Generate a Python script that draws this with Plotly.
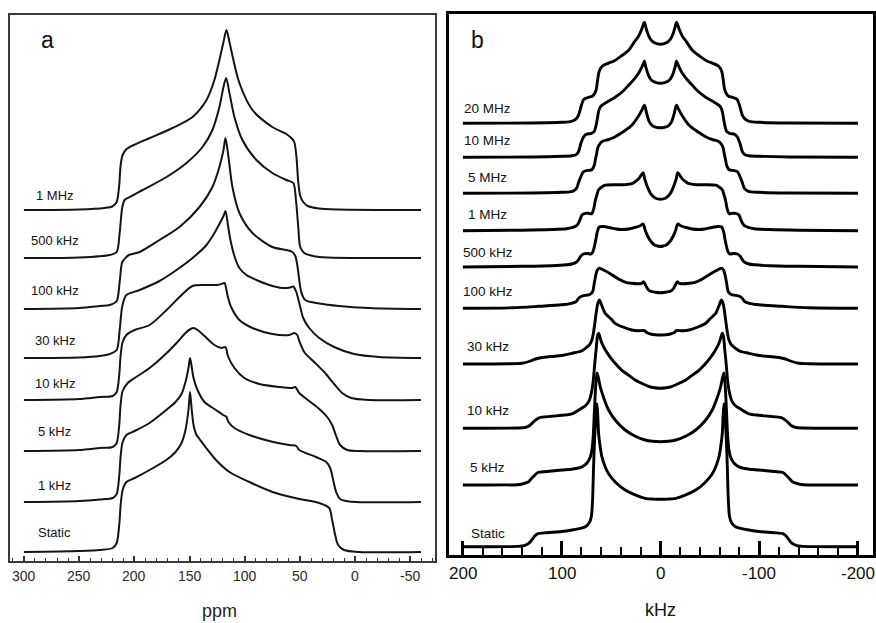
import plotly.graph_objects as go

W, H = 876, 623

# ---------------- Panel a (ppm) ----------------
labels_a = ["1 MHz", "500 kHz", "100 kHz", "30 kHz", "10 kHz", "5 kHz", "1 kHz", "Static"]

a_1MHz_ppm = [300, 250, 227, 220, 216, 213.7, 212.4, 210.6, 207, 200.6, 186, 165.4, 147.3, 134.7, 127.5, 123, 119.3, 116.6, 113.9, 110.3, 104.9, 93.1, 75.1, 62.4, 57, 55.2, 53.4, 51.6, 49.8, 47.1, 43, 33, 15, -59.5]
a_1MHz_int = [0, 0.5, 2, 3.5, 8, 25, 45, 55, 61, 65, 72, 82, 93, 110, 130, 150, 168, 180, 168, 150, 127, 100, 83, 76, 71, 68, 55, 28, 14, 8, 4, 1.5, 0.5, 0]

a_500k_ppm = [300, 250, 222.3, 216, 213.3, 210.9, 208.8, 204.2, 192.5, 170.8, 152.8, 138.3, 129.3, 123, 119.3, 116.9, 113.9, 109.4, 102.2, 89.5, 75.1, 62.4, 56.1, 53.7, 51.6, 49.8, 46.2, 41.7, 32.6, -59.5]
a_500k_int = [0, 0.5, 3, 6, 25, 51, 58, 61, 68, 81, 95, 111, 128, 151, 171, 180, 165, 141, 118, 98, 85, 78, 75, 58, 31, 11, 5, 3, 1, 0]

a_100k_ppm = [300, 250, 231.3, 222.3, 216, 213.3, 210.9, 207.2, 205, 195.2, 177.2, 159.1, 141, 129.3, 123, 119.3, 117.5, 114.8, 111.2, 104.9, 93.1, 75.1, 62.4, 57, 54.3, 52.5, 50.7, 48.9, 45.3, 32.6, 14.6, -12.5, -59.5]
a_100k_int = [0, 1, 3, 4, 8, 27, 47, 52, 54, 57, 69, 82, 102, 122, 142, 159, 171, 152, 122, 96, 76, 62, 59, 57, 53, 44, 29, 17, 9, 5.5, 3, 1, 0]

a_30k_ppm = [300, 250, 231.3, 222.3, 216, 213.3, 210.9, 207.2, 195.2, 177.2, 161.8, 147.3, 134.7, 127.5, 123, 119.3, 117.5, 115.3, 113, 109.4, 104.9, 98.6, 89.5, 77.8, 66, 58.8, 56.1, 53.4, 50.7, 47.1, 41.7, 32.6, 19.1, 1, -21.6, -59.5]
a_30k_int = [0, 0.5, 2, 4, 8, 28, 52, 63, 68, 77, 88, 100, 113, 125, 134, 142, 147, 133, 118, 102, 90, 83, 78, 73, 70, 70.5, 71.5, 66, 55, 40, 30, 20, 11, 4, 1, 0]

a_10k_ppm = [300, 250, 231.3, 219.6, 216, 213.7, 212.4, 210.6, 207.2, 199.7, 186.2, 170.8, 159.1, 147.3, 135, 124.8, 121.1, 118.4, 116.6, 115.3, 112.4, 104.9, 93.1, 75.1, 59.7, 55.2, 52.5, 50.7, 46.2, 37.2, 28.1, 19.1, 11.9, 3.7, -12.5, -59.5]
a_10k_int = [0, 1, 3, 4, 8, 25, 45, 58, 65, 70, 75, 90, 103, 114, 115, 115, 116, 117, 110, 103, 93, 80, 72, 66, 65, 67, 65, 59, 48, 38, 28, 16, 7, 2, 0, 0]

a_5k_ppm = [300, 250, 231.3, 219.6, 216, 213.7, 212.4, 210.6, 206, 199.7, 186.2, 172.6, 161.8, 153.7, 149.1, 146.4, 142.8, 136.5, 127.5, 121.1, 117.5, 115.3, 109.4, 100.4, 86.8, 68.8, 57, 54.3, 50.7, 41.7, 32.6, 25.4, 20.9, 17.3, 13.7, 7.3, -3.5, -59.5]
a_5k_int = [0, 1, 3, 4, 8, 26, 47, 60, 68, 73, 83, 96, 108, 118, 122, 123, 121, 115, 106, 103, 104, 95, 83, 73, 67, 64, 63, 64, 58, 50, 42, 34, 26, 15, 6, 1, 0, 0]

a_1k_ppm = [300, 250, 231.3, 219.6, 216, 213.7, 212.4, 210.6, 207.2, 199.7, 186.2, 171.1, 162.7, 157.3, 153.7, 151, 149.6, 148.2, 146.4, 142.8, 136.5, 126.1, 119.6, 116.6, 114.8, 109.4, 95.9, 77.8, 59.7, 53.4, 50.7, 35.4, 26.3, 22.7, 20, 17.3, 13.7, 5.5, -59.5]
a_1k_int = [0, 1, 2.5, 4, 8, 26, 46, 60, 67, 71, 79, 92, 100, 108, 120, 134, 144, 136, 124, 112, 100, 92, 87, 85, 80, 74, 67, 61, 57, 56, 52, 45, 40, 34, 22, 10, 3, 0.5, 0]

a_static_ppm = [300, 250, 231.3, 219.6, 216, 213.7, 212.4, 210.6, 207.2, 199.7, 186.2, 171.1, 162.7, 157.3, 153.7, 151, 149.6, 148.2, 146.4, 143.7, 141, 135, 126.1, 113.9, 95.9, 75, 66, 50.7, 32.6, 23.6, 20.9, 18.2, 15.5, 10.1, -3.5, -59.5]
a_static_int = [0, 1, 2, 4, 9, 27, 47, 62, 70, 74, 82, 92, 100, 109, 122, 142, 160, 144, 127, 117, 113, 104, 92, 80, 70, 60, 57, 53, 49, 44, 32, 17, 7, 2, 0, 0]

# stacking offsets (arbitrary intensity units)
offsets_a = [351, 303, 252, 203, 161, 110, 59, 9]
ppm_ticks = [300, 250, 200, 150, 100, 50, 0, -50]
ppm_ticktext = ["300", "250", "200", "150", "100", "50", "0", "-50"]

# ---------------- Panel b (kHz) ----------------
labels_b = ["20 MHz", "10 MHz", "5 MHz", "1 MHz", "500 kHz", "100 kHz", "30 kHz", "10 kHz", "5 kHz", "Static"]

b_20M_k = [200, 130, 100, 90, 86, 83, 80, 77.5, 73, 69, 66.5, 65, 63.5, 62, 59, 53, 47.5, 40, 32.3, 26, 22.2, 19, 17.3, 16.2, 15, 13, 10, 6, 0, -6, -10, -13, -15, -16.2, -17.3, -19, -22.2, -26, -32.3, -40, -47.5, -53, -59, -62, -63.5, -65, -66.5, -69, -73, -77.5, -80, -83, -86, -90, -100, -130, -200]
b_20M_i = [0, 0.3, 1, 2, 4, 8, 18, 24, 26, 27, 30, 34, 44, 52, 57, 60, 62, 67, 73, 82, 87, 94, 99, 101, 97, 90, 84, 80.5, 79, 80.5, 84, 90, 97, 101, 99, 94, 87, 82, 73, 67, 62, 60, 57, 52, 44, 34, 30, 27, 26, 24, 18, 8, 4, 2, 1, 0.3, 0]

b_10M_k = [200, 130, 100, 89.6, 85, 82.8, 80.5, 78, 75, 70, 67, 65.4, 64, 62.6, 61, 59.3, 53, 45.8, 38, 32.3, 26, 22.2, 19, 17.2, 16.2, 15, 12.1, 9, 5, 0, -5, -9, -12.1, -15, -16.2, -17.2, -19, -22.2, -26, -32.3, -38, -45.8, -53, -59.3, -61, -62.6, -64, -65.4, -67, -70, -75, -78, -80.5, -82.8, -85, -89.6, -100, -130, -200]
b_10M_i = [0, 0.3, 1, 1.5, 3, 6, 14, 20, 23, 24, 26, 31, 38, 46, 50, 52, 56, 60, 66, 72, 79, 84, 90, 94, 96, 91, 82, 77, 75, 74, 75, 77, 82, 91, 96, 94, 90, 84, 79, 72, 66, 60, 56, 52, 50, 46, 38, 31, 26, 24, 23, 20, 14, 6, 3, 1.5, 1, 0.3, 0]

b_5M_k = [200, 130, 100, 89, 85, 82.8, 80, 77.8, 73, 69.4, 67, 66, 64.5, 63.3, 61, 59.3, 52, 45.8, 37, 29, 23, 18.9, 16.2, 14, 11.5, 8, 4, 0, -4, -8, -11.5, -14, -16.2, -18.9, -23, -29, -37, -45.8, -52, -59.3, -61, -63.3, -64.5, -66, -67, -69.4, -73, -77.8, -80, -82.8, -85, -89, -100, -130, -200]
b_5M_i = [0, 0.3, 1, 2, 5, 11, 18, 21.6, 23, 23.5, 28, 33, 40, 46, 50, 51.6, 54, 56.6, 62, 68, 76, 83, 88, 80, 72, 67.5, 66, 65.5, 66, 67.5, 72, 80, 88, 83, 76, 68, 62, 56.6, 54, 51.6, 50, 46, 40, 33, 28, 23.5, 23, 21.6, 18, 11, 5, 2, 1, 0.3, 0]

b_1M_k = [200, 140, 110, 95, 89.6, 85, 82.8, 81, 79.5, 76, 72.7, 69.5, 67.5, 66, 64, 62.6, 59, 55.9, 46, 35.7, 29, 25.6, 22.5, 20.5, 17.5, 16, 13.9, 11, 8.8, 5, 0, -5, -8.8, -11, -13.9, -16, -17.5, -20.5, -22.5, -25.6, -29, -35.7, -46, -55.9, -59, -62.6, -64, -66, -67.5, -69.5, -72.7, -76, -79.5, -81, -82.8, -85, -89.6, -95, -110, -140, -200]
b_1M_i = [0, 0.5, 1.2, 2, 3, 5, 8, 12, 15.7, 17.4, 17.4, 17, 22, 30, 37, 41, 44, 45.5, 46, 46, 47, 49, 51.5, 54, 58, 52, 45.7, 39, 35.7, 32.5, 31.5, 32.5, 35.7, 39, 45.7, 52, 58, 54, 51.5, 49, 47, 46, 46, 45.5, 44, 41, 37, 30, 22, 17, 17.4, 17.4, 15.7, 12, 8, 5, 3, 2, 1.2, 0.5, 0]

b_500k_k = [200, 140, 110, 95, 89.6, 85, 82.8, 80.5, 78, 74, 70.5, 68.5, 67, 65.5, 64, 62, 58, 52, 45, 39, 32, 26, 21, 17.5, 15.5, 13, 10, 6, 3, 0, -3, -6, -10, -13, -15.5, -17.5, -21, -26, -32, -39, -45, -52, -58, -62, -64, -65.5, -67, -68.5, -70.5, -74, -78, -80.5, -82.8, -85, -89.6, -95, -110, -140, -200]
b_500k_i = [0, 0.7, 1.3, 2.2, 3, 5, 7.5, 11, 13, 13.5, 13, 15, 20, 27, 35, 40, 40.5, 39.5, 38, 37.5, 38, 39.5, 41, 43, 37, 31, 26, 22, 21, 20.5, 21, 22, 26, 31, 37, 43, 41, 39.5, 38, 37.5, 38, 39.5, 40.5, 40, 35, 27, 20, 15, 13, 13.5, 13, 11, 7.5, 5, 3, 2.2, 1.3, 0.7, 0]

b_100k_k = [200, 150, 123, 100, 90, 85, 82.8, 80, 76, 72.7, 70, 68.5, 67, 65.5, 64, 62.3, 60, 56, 50, 42, 35, 29, 23, 19, 17, 15.5, 13, 10, 5, 0, -5, -10, -13, -15.5, -17, -19, -23, -29, -35, -42, -50, -56, -60, -62.3, -64, -65.5, -67, -68.5, -70, -72.7, -76, -80, -82.8, -85, -90, -100, -123, -150, -200]
b_100k_i = [0, 0.5, 2, 3.5, 5, 7, 10, 12, 13, 13.5, 15, 17, 25, 33, 38, 40, 39.5, 37.5, 34, 29, 26, 25, 24.5, 25, 26.5, 24, 19.5, 17, 16, 15.5, 16, 17, 19.5, 24, 26.5, 25, 24.5, 25, 26, 29, 34, 37.5, 39.5, 40, 38, 33, 25, 17, 15, 13.5, 13, 12, 10, 7, 5, 3.5, 2, 0.5, 0]

b_30k_k = [200, 150, 140, 131.6, 126.6, 120, 110, 100, 89.6, 80, 76, 72, 69.4, 67.7, 66, 64.5, 63.3, 61.6, 60, 58, 55.9, 50, 45.8, 38, 29, 22, 16, 14, 10, 5, 0, -5, -10, -14, -16, -22, -29, -38, -45.8, -50, -55.9, -58, -60, -61.6, -63.3, -64.5, -66, -67.7, -69.4, -72, -76, -80, -89.6, -100, -110, -120, -126.6, -131.6, -140, -150, -200]
b_30k_i = [0, 0.3, 0.7, 3, 5, 6.5, 7.5, 8.5, 10.7, 13, 15.7, 19, 24, 32, 44, 55, 61, 64, 60, 55, 50.7, 45, 40.7, 37, 34, 33.3, 33.3, 31.5, 30, 29.2, 29, 29.2, 30, 31.5, 33.3, 33.3, 34, 37, 40.7, 45, 50.7, 55, 60, 64, 61, 55, 44, 32, 24, 19, 15.7, 13, 10.7, 8.5, 7.5, 6.5, 5, 3, 0.7, 0.3, 0]

b_10k_k = [200, 145, 137, 132, 128, 123, 110, 100, 89.6, 80, 76, 72, 70, 68, 66.5, 65, 63.8, 62.6, 61.5, 59.3, 55, 50.8, 45, 39, 32, 25.6, 19, 12, 6, 0, -6, -12, -19, -25.6, -32, -39, -45, -50.8, -55, -59.3, -61.5, -62.6, -63.8, -65, -66.5, -68, -70, -72, -76, -80, -89.6, -100, -110, -123, -128, -132, -137, -145, -200]
b_10k_i = [0, 0.3, 0.8, 3, 7, 10.5, 12, 13, 14.5, 20, 22.5, 28, 35, 48, 65, 80, 92, 95, 92, 85, 77, 71, 64, 58, 53, 48.3, 45, 42, 40.5, 40, 40.5, 42, 45, 48.3, 53, 58, 64, 71, 77, 85, 92, 95, 92, 80, 65, 48, 35, 28, 22.5, 20, 14.5, 13, 12, 10.5, 7, 3, 0.8, 0.3, 0]

b_5k_k = [200, 145, 140, 134, 131, 127, 124, 115, 100, 90, 82.8, 78, 74.4, 71, 69.4, 68, 66.7, 65.5, 64.3, 63, 60.9, 57, 52.5, 45, 35.7, 26, 15.5, 8, 0, -8, -15.5, -26, -35.7, -45, -52.5, -57, -60.9, -63, -64.3, -65.5, -66.7, -68, -69.4, -71, -74.4, -78, -82.8, -90, -100, -115, -124, -127, -131, -134, -140, -145, -200]
b_5k_i = [0, 0.3, 1, 3, 6, 10, 12.5, 13.5, 15, 15.8, 17, 19, 22, 28, 35, 50, 78, 100, 112, 108, 98, 86, 75, 64, 55, 49, 45, 43.7, 43.3, 43.7, 45, 49, 55, 64, 75, 86, 98, 108, 112, 100, 78, 50, 35, 28, 22, 19, 17, 15.8, 15, 13.5, 12.5, 10, 6, 3, 1, 0.3, 0]

b_static_k = [200, 145, 138, 133, 130, 127, 124, 115, 100, 89.6, 80, 76, 72, 70, 68.8, 67.7, 66.8, 66, 65.2, 64.3, 63.4, 62.6, 61, 59.3, 56, 52.5, 45, 35.7, 25, 15.5, 7, 0, -7, -15.5, -25, -35.7, -45, -52.5, -56, -59.3, -61, -62.6, -63.4, -64.3, -65.2, -66, -66.8, -67.7, -68.8, -70, -72, -76, -80, -89.6, -100, -115, -124, -127, -130, -133, -138, -145, -200]
b_static_i = [0, 0.3, 1, 3.5, 7, 11, 13, 14, 15.2, 16.7, 18.5, 20, 24, 30, 45, 80, 105, 120, 135, 143, 130, 113, 100, 90, 80, 73, 64, 56.7, 51.5, 48.4, 47.6, 47.4, 47.6, 48.4, 51.5, 56.7, 64, 73, 80, 90, 100, 113, 130, 143, 135, 120, 105, 80, 45, 30, 24, 20, 18.5, 16.7, 15.2, 14, 13, 11, 7, 3.5, 1, 0.3, 0]

offsets_b = [431.7, 397.7, 361.7, 324.3, 288, 246.7, 191, 126.7, 70, 8.3]
khz_ticks = [200, 100, 0, -100, -200]
khz_ticktext = ["200", "100", "0", "-100", "-200"]

a_x = [a_1MHz_ppm, a_500k_ppm, a_100k_ppm, a_30k_ppm, a_10k_ppm, a_5k_ppm, a_1k_ppm, a_static_ppm]
a_y = [a_1MHz_int, a_500k_int, a_100k_int, a_30k_int, a_10k_int, a_5k_int, a_1k_int, a_static_int]
b_x = [b_20M_k, b_10M_k, b_5M_k, b_1M_k, b_500k_k, b_100k_k, b_30k_k, b_10k_k, b_5k_k, b_static_k]
b_y = [b_20M_i, b_10M_i, b_5M_i, b_1M_i, b_500k_i, b_100k_i, b_30k_i, b_10k_i, b_5k_i, b_static_i]

for xs, ys in zip(a_x + b_x, a_y + b_y):
    assert len(xs) == len(ys), (len(xs), len(ys))

FONT = "Liberation Sans, Arial, Helvetica, sans-serif"

fig = go.Figure()
for xs, ys, off in zip(a_x, a_y, offsets_a):
    fig.add_trace(go.Scatter(x=xs, y=[v + off for v in ys], mode="lines",
                             line=dict(color="#141414", width=2, shape="spline", smoothing=0.8),
                             xaxis="x", yaxis="y", hoverinfo="skip", showlegend=False))
for xs, ys, off in zip(b_x, b_y, offsets_b):
    fig.add_trace(go.Scatter(x=xs, y=[v + off for v in ys], mode="lines",
                             line=dict(color="#000000", width=2.9, shape="spline", smoothing=0.8),
                             xaxis="x2", yaxis="y2", hoverinfo="skip", showlegend=False))


def px(x, y):
    return x / W, 1 - y / H


ann = []
def label(text, x, y, size, color="#111"):
    xp, yp = px(x, y)
    ann.append(dict(text=text, x=xp, y=yp, xref="paper", yref="paper", showarrow=False,
                    xanchor="center", yanchor="middle", font=dict(family=FONT, size=size, color=color)))

label_pos_a = [195, 240, 290, 340, 383, 432, 485, 532]
for t, yy in zip(labels_a, label_pos_a):
    label(t, 55, yy, 13)
label_pos_b = [108, 140, 177, 214, 252, 291, 346, 410, 467, 533]
for t, yy in zip(labels_b, label_pos_b):
    label(t, 489, yy, 13.5)
label("a", 48, 40, 23)
label("b", 479, 40, 23)
label("ppm", 220, 611, 18, "#222")
label("kHz", 662, 610, 18)

# tick labels placed on the axes' own x scale (hyphen minus as in the original)
for v, t in zip(ppm_ticks, ppm_ticktext):
    ann.append(dict(text=t, x=v, xref="x", y=1 - 576 / H, yref="paper", showarrow=False,
                    xanchor="center", yanchor="middle", font=dict(family=FONT, size=14, color="#2a2a2a")))
for v, t in zip(khz_ticks, khz_ticktext):
    ann.append(dict(text=t, x=v, xref="x2", y=1 - 573 / H, yref="paper", showarrow=False,
                    xanchor="center", yanchor="middle", font=dict(family=FONT, size=17, color="#111")))

fig.update_layout(
    width=W, height=H, margin=dict(l=0, r=0, t=0, b=0),
    paper_bgcolor="white", plot_bgcolor="white",
    annotations=ann,
    xaxis=dict(domain=[10 / W, 436 / W], range=[312.6, -72.2], anchor="y",
               showline=True, mirror=True, linecolor="#3a3a3a", linewidth=2,
               ticks="inside", tickmode="array", tickvals=ppm_ticks, ticklen=5, tickwidth=1.5, tickcolor="#333",
               minor=dict(dtick=10, tick0=0, ticks="inside", ticklen=3, tickwidth=1, tickcolor="#333"),
               showticklabels=False, showgrid=False, zeroline=False),
    yaxis=dict(domain=[1 - 561 / H, 1 - 15 / H], range=[0, 546], anchor="x",
               showline=True, mirror=True, linecolor="#3a3a3a", linewidth=2,
               showticklabels=False, ticks="", showgrid=False, zeroline=False),
    xaxis2=dict(domain=[450 / W, 875 / W], range=[214.1, -215.2], anchor="y2",
                showline=True, mirror=True, linecolor="black", linewidth=3,
                ticks="inside", tickmode="array", tickvals=khz_ticks, ticklen=14, tickwidth=2.5, tickcolor="black",
                minor=dict(dtick=20, tick0=0, ticks="inside", ticklen=8, tickwidth=2, tickcolor="black"),
                showticklabels=False, showgrid=False, zeroline=False),
    yaxis2=dict(domain=[1 - 555 / H, 1 - 14 / H], range=[0, 541], anchor="x2",
                showline=True, mirror=True, linecolor="black", linewidth=3,
                showticklabels=False, ticks="", showgrid=False, zeroline=False),
)

fig.write_html("out.html", config={"displayModeBar": False},
               post_script="document.body.style.margin='0';document.body.style.overflow='hidden';")
